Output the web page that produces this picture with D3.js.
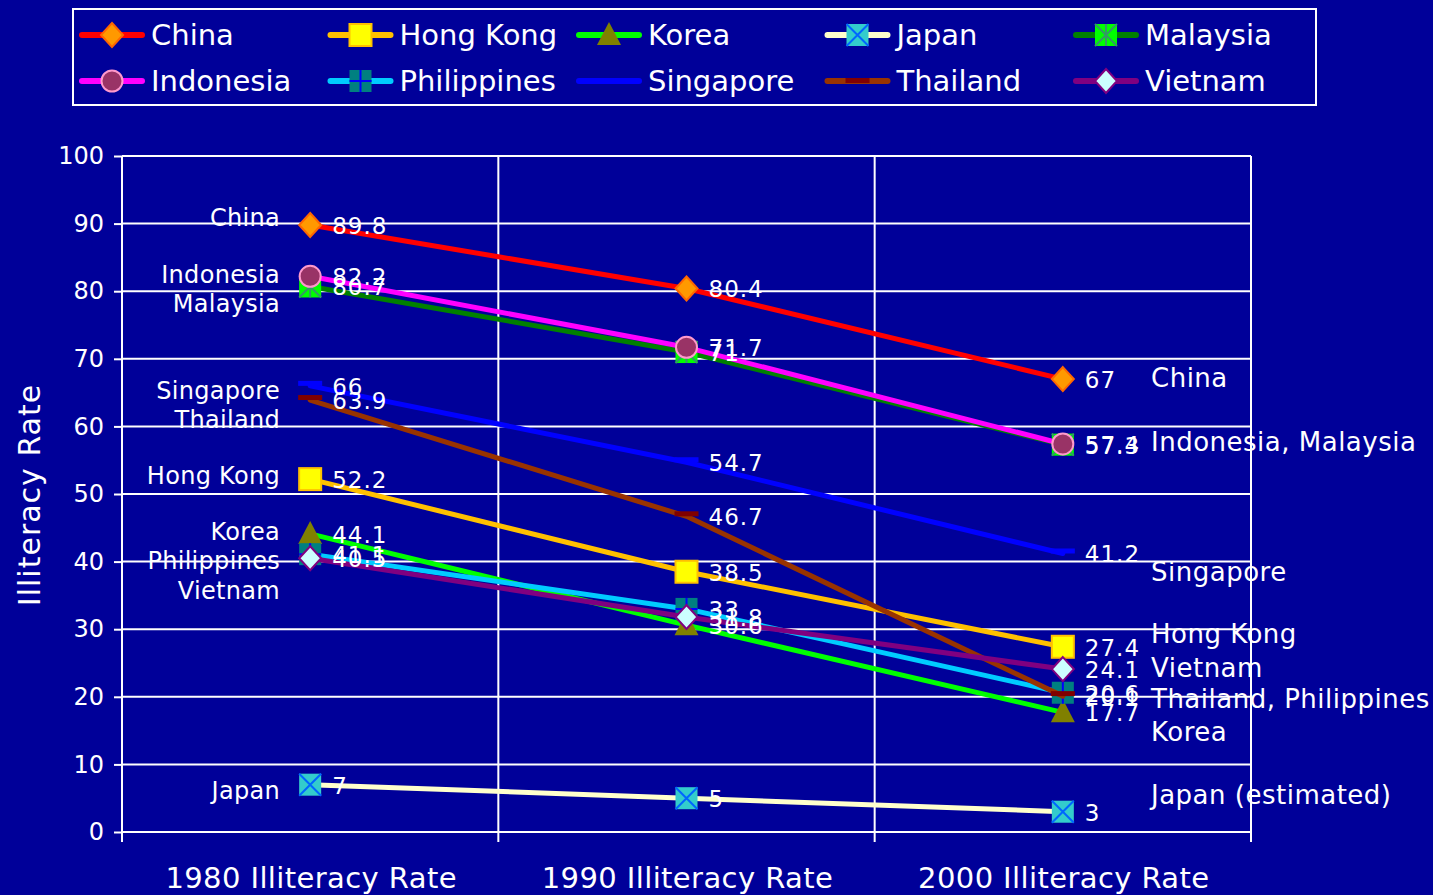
<!DOCTYPE html>
<html>
<head>
<meta charset="utf-8">
<script src="https://cdn.jsdelivr.net/npm/d3@7"></script>
<style>
  html, body { margin: 0; padding: 0; background: #000099; }
  svg { display: block; }
  text { font-family: "DejaVu Sans", Verdana, sans-serif; fill: #ffffff; }
</style>
</head>
<body>
<script>
// ---------------- data ----------------
const categories = ["1980 Illiteracy Rate", "1990 Illiteracy Rate", "2000 Illiteracy Rate"];
const yTicks = [0, 10, 20, 30, 40, 50, 60, 70, 80, 90, 100];

const countries = ["China", "Hong Kong", "Korea", "Japan", "Malaysia",
                   "Indonesia", "Philippines", "Singapore", "Thailand", "Vietnam"];

const china       = [89.8, 80.4, 67];
const hongKong    = [52.2, 38.5, 27.4];
const korea       = [44.1, 30.6, 17.7];
const japan       = [7, 5, 3];
const malaysia    = [80.7, 71, 57.3];
const indonesia   = [82.2, 71.7, 57.4];
const philippines = [41.1, 33, 20.6];
const singapore   = [66, 54.7, 41.2];
const thailand    = [63.9, 46.7, 20.1];
const vietnam     = [40.5, 31.8, 24.1];

const seriesValues = [china, hongKong, korea, japan, malaysia,
                      indonesia, philippines, singapore, thailand, vietnam];

// annotation text boxes (text + the value level they sit at)
const leftNoteText   = ["China", "Indonesia", "Malaysia", "Singapore", "Thailand",
                        "Hong Kong", "Korea", "Philippines", "Vietnam", "Japan"];
const leftNoteLevel  = [91.0, 82.6, 78.2, 65.4, 61.1, 52.8, 44.5, 40.2, 35.8, 6.2];
const rightNoteText  = ["China", "Indonesia, Malaysia", "Singapore", "Hong Kong",
                        "Vietnam", "Thailand, Philippines", "Korea", "Japan (estimated)"];
const rightNoteLevel = [67.2, 57.7, 38.6, 29.3, 24.4, 19.7, 14.9, 5.5];

// ---------------- styles ----------------
const styles = {
  "China":       { line: "#FF0000", marker: "diamond",  fill: "#FF9900", stroke: "#FF6600" },
  "Hong Kong":   { line: "#FFC000", marker: "square",   fill: "#FFFF00", stroke: "#FFC000" },
  "Korea":       { line: "#00FF00", marker: "triangle", fill: "#808000", stroke: "#808000" },
  "Japan":       { line: "#FFFFCC", marker: "xsquare",  fill: "#33CCCC", stroke: "#0066FF" },
  "Malaysia":    { line: "#008000", marker: "starsq",   fill: "#00FF00", stroke: "#339966" },
  "Indonesia":   { line: "#FF00FF", marker: "circle",   fill: "#993366", stroke: "#FF99CC" },
  "Philippines": { line: "#00CCFF", marker: "plussq",   fill: "#008080", stroke: "#0000FF" },
  "Singapore":   { line: "#0000FF", marker: "dash",     fill: "#0000FF", stroke: "#0000FF" },
  "Thailand":    { line: "#993300", marker: "dash",     fill: "#800000", stroke: "#800000" },
  "Vietnam":     { line: "#800080", marker: "diamond",  fill: "#CCFFFF", stroke: "#800080" }
};

const W = 1433, H = 895;
const svg = d3.select("body").append("svg").attr("width", W).attr("height", H);
svg.append("rect").attr("width", W).attr("height", H).attr("fill", "#000099");

const plot = { left: 122, right: 1251, top: 156, bottom: 832 };
const x = d3.scaleBand().domain(categories).range([plot.left, plot.right]);
const y = d3.scaleLinear().domain([0, 100]).range([plot.bottom, plot.top]);
const cx = c => x(c) + x.bandwidth() / 2;

// ---------------- grid + axes ----------------
const yAxis = d3.axisLeft(y).tickValues(yTicks).tickSize(8).tickPadding(10);
const yg = svg.append("g").attr("transform", `translate(${plot.left},0)`).call(yAxis);
yg.select(".domain").remove();
yg.selectAll(".tick line").attr("stroke", "#fff").attr("stroke-width", 2);
yg.selectAll(".tick text").attr("fill", "#fff").style("font-size", "24px")
  .style("font-family", '"DejaVu Sans", Verdana, sans-serif');

const grid = svg.append("g");
grid.selectAll("line.h").data(yTicks).join("line")
  .attr("x1", plot.left).attr("x2", plot.right)
  .attr("y1", d => y(d)).attr("y2", d => y(d))
  .attr("stroke", "#fff").attr("stroke-width", 2);

// category separators (extend below as ticks)
const seps = categories.map(c => x(c)).concat([plot.right]);
grid.selectAll("line.v").data(seps).join("line")
  .attr("x1", d => d).attr("x2", d => d)
  .attr("y1", plot.top).attr("y2", plot.bottom + 10)
  .attr("stroke", "#fff").attr("stroke-width", 2);

svg.append("g").selectAll("text").data(categories).join("text")
  .attr("x", d => cx(d) + 1).attr("y", 888)
  .attr("text-anchor", "middle").style("font-size", "29px").style("letter-spacing", "0.4px")
  .text(d => d);

svg.append("text")
  .attr("transform", "translate(40,495) rotate(-90)")
  .attr("text-anchor", "middle").style("font-size", "30px").style("letter-spacing", "1px")
  .text("Illiteracy Rate");

// ---------------- markers ----------------
function drawMarker(g, type, st, px, py) {
  const s = 11;
  if (type === "diamond") {
    g.append("path").attr("d", `M${px},${py - 12}L${px + 11},${py}L${px},${py + 12}L${px - 11},${py}Z`)
      .attr("fill", st.fill).attr("stroke", st.stroke).attr("stroke-width", 2);
  } else if (type === "square") {
    g.append("rect").attr("x", px - s).attr("y", py - s).attr("width", 2 * s).attr("height", 2 * s)
      .attr("fill", st.fill).attr("stroke", st.stroke).attr("stroke-width", 2);
  } else if (type === "triangle") {
    g.append("path").attr("d", `M${px},${py - 13}L${px + 12},${py + 10}L${px - 12},${py + 10}Z`)
      .attr("fill", st.fill);
  } else if (type === "xsquare") {
    g.append("rect").attr("x", px - s).attr("y", py - s).attr("width", 2 * s).attr("height", 2 * s)
      .attr("fill", st.fill);
    g.append("path").attr("d", `M${px - s},${py - s}L${px + s},${py + s}M${px + s},${py - s}L${px - s},${py + s}`)
      .attr("stroke", st.stroke).attr("stroke-width", 2);
  } else if (type === "starsq") {
    g.append("rect").attr("x", px - s).attr("y", py - s).attr("width", 2 * s).attr("height", 2 * s)
      .attr("fill", st.fill);
    g.append("path").attr("d", `M${px - s},${py - s}L${px + s},${py + s}M${px + s},${py - s}L${px - s},${py + s}M${px},${py - s}L${px},${py + s}`)
      .attr("stroke", st.stroke).attr("stroke-width", 2);
  } else if (type === "circle") {
    g.append("circle").attr("cx", px).attr("cy", py).attr("r", 10.5)
      .attr("fill", st.fill).attr("stroke", st.stroke).attr("stroke-width", 2);
  } else if (type === "plussq") {
    g.append("rect").attr("x", px - s).attr("y", py - s).attr("width", 2 * s).attr("height", 2 * s)
      .attr("fill", st.fill);
    g.append("path").attr("d", `M${px - s},${py}L${px + s},${py}M${px},${py - s}L${px},${py + s}`)
      .attr("stroke", st.stroke).attr("stroke-width", 2);
  } else if (type === "dash") {
    g.append("rect").attr("x", px - 12).attr("y", py - 5).attr("width", 24).attr("height", 5)
      .attr("fill", st.fill);
  }
}

// ---------------- series ----------------
const lineGen = d3.line().x((d, i) => cx(categories[i])).y(d => y(d));
const seriesG = svg.append("g");
countries.forEach((name, k) => {
  const vals = seriesValues[k];
  const st = styles[name];
  const g = seriesG.append("g");
  g.append("path").datum(vals).attr("d", lineGen)
    .attr("fill", "none").attr("stroke", st.line).attr("stroke-width", 5)
    .attr("stroke-linejoin", "round").attr("stroke-linecap", "round");
  vals.forEach((v, i) => drawMarker(g, st.marker, st, cx(categories[i]), y(v)));
});

// data labels
const labelG = svg.append("g");
countries.forEach((name, k) => {
  seriesValues[k].forEach((v, i) => {
    labelG.append("text")
      .attr("x", cx(categories[i]) + 22).attr("y", y(v) + 9)
      .style("font-size", "23px").style("letter-spacing", "1px")
      .text(d3.format("~g")(v));
  });
});

// annotations
const noteG = svg.append("g");
leftNoteText.forEach((t, i) => {
  noteG.append("text").attr("x", 280).attr("y", y(leftNoteLevel[i]) + 9)
    .attr("text-anchor", "end").style("font-size", "24px").style("letter-spacing", "0.3px").text(t);
});
rightNoteText.forEach((t, i) => {
  noteG.append("text").attr("x", 1151).attr("y", y(rightNoteLevel[i]) + 9.5)
    .style("font-size", "26px").style("letter-spacing", "0.5px").text(t);
});

// ---------------- legend ----------------
const legend = svg.append("g");
legend.append("rect").attr("x", 73).attr("y", 9).attr("width", 1243).attr("height", 96)
  .attr("fill", "#000099").attr("stroke", "#fff").attr("stroke-width", 2);
countries.forEach((name, k) => {
  const col = k % 5, row = Math.floor(k / 5);
  const lx = 80 + col * 248.5, ly = 35 + row * 46;
  const st = styles[name];
  const g = legend.append("g");
  g.append("line").attr("x1", lx + 2).attr("x2", lx + 62).attr("y1", ly).attr("y2", ly)
    .attr("stroke", st.line).attr("stroke-width", 6).attr("stroke-linecap", "round");
  drawMarker(g, st.marker, st, lx + 32, ly + (st.marker === "dash" ? 2 : 0));
  g.append("text").attr("x", lx + 71).attr("y", ly + 10).style("font-size", "29px").text(name);
});
</script>
</body>
</html>
